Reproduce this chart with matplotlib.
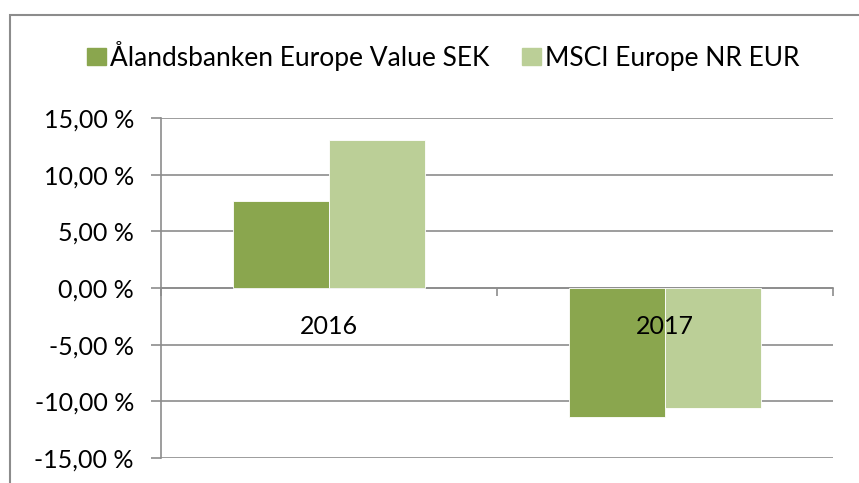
import numpy as np
import matplotlib
matplotlib.use("Agg")
import matplotlib.pyplot as plt
from matplotlib.patches import Rectangle, Patch

years = ["2016", "2017"]
fund = [7.65, -11.35]      # Ålandsbanken Europe Value SEK
index = [13.05, -10.6]     # MSCI Europe NR EUR
series_names = ["Ålandsbanken Europe Value SEK", "MSCI Europe NR EUR"]
yticks = [-15, -10, -5, 0, 5, 10, 15]

DARK = "#8aa64e"
LIGHT = "#bbcf97"
GRID = "#8c8c8c"

plt.rcParams["font.family"] = ["Lato", "DejaVu Sans"]

fig = plt.figure(figsize=(8.59, 4.83), dpi=100)
ax = fig.add_axes([161/859, 1-458/483, (833-161)/859, (458-118)/483])

x = np.arange(len(years))
w = 0.286
ax.bar(x - w/2, fund, w, color=DARK, edgecolor="white", linewidth=0.6, zorder=3)
ax.bar(x + w/2, index, w, color=LIGHT, edgecolor="white", linewidth=0.6, zorder=3)

ax.set_xlim(-0.5, len(years) - 0.5)
ax.set_ylim(-15, 15)
ax.set_yticks(yticks)
ax.set_yticklabels([f"{v:,.2f} %".replace(".", ",") for v in yticks], fontsize=18)
for v in yticks:
    ax.axhline(v, color=GRID, lw=1.2, zorder=1)

for s in ["top", "right"]:
    ax.spines[s].set_visible(False)
ax.spines["left"].set_color(GRID)
ax.spines["left"].set_linewidth(1.2)
ax.spines["bottom"].set_position(("data", 0))
ax.spines["bottom"].set_color(GRID)
ax.spines["bottom"].set_linewidth(1.2)
ax.set_xticks([-0.5, 0.5, 1.5])
ax.set_xticklabels([])
ax.tick_params(axis="x", length=6, color=GRID, width=1.2)
ax.tick_params(axis="y", length=7.5, color=GRID, width=1.2, pad=12)

for i, yr in enumerate(years):
    ax.annotate(yr, (i, 0), xytext=(0, -27.5), textcoords="offset points",
                ha="center", va="center", fontsize=18, zorder=5)

handles = [Patch(color=DARK), Patch(color=LIGHT)]
fig.legend(handles, series_names, loc="center", bbox_to_anchor=(0.516, 1-56/483),
           ncol=2, frameon=False, fontsize=19, handlelength=0.72, handleheight=0.64,
           handletextpad=0.16, columnspacing=1.25, borderpad=0)

fig.patches.append(Rectangle((10/859, -0.1), 1.2, 1-15/483 + 0.1,
                             transform=fig.transFigure, fill=False,
                             edgecolor="#8c8c8c", lw=1.5))

fig.savefig("out.png", dpi=100)
